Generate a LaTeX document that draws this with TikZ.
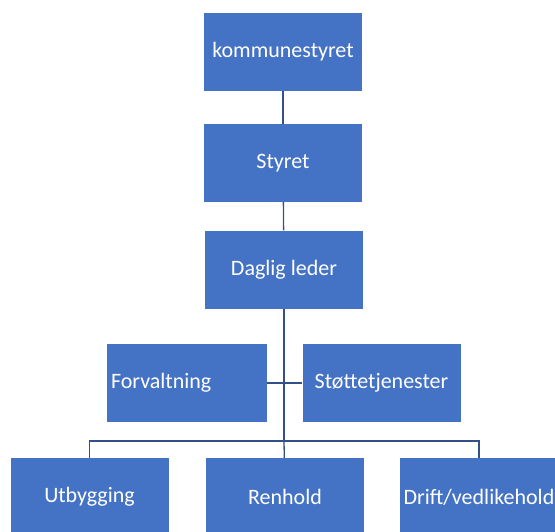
\documentclass[tikz,border=0pt]{standalone}
\usepackage{fontspec}
\setmainfont{Carlito}
\usepackage{xcolor}
\usepackage{tikz}
\definecolor{boxblue}{HTML}{4472C4}
\definecolor{lineblue}{HTML}{34508A}
\tikzset{
  orgbox/.style={fill=boxblue, text=white, minimum width=158pt, minimum height=78pt,
    inner sep=0pt, font=\fontsize{22}{26}\selectfont},
  orgline/.style={draw=lineblue, line width=1.3pt}
}
\begin{document}
\begin{tikzpicture}[x=1pt,y=-1pt]
  \useasboundingbox (0,0) rectangle (555,531);
  \clip (0,0) rectangle (555,531);
      \node[orgbox] (A) at (283,51.5) {kommunestyret};
      \node[orgbox] (B) at (283,163) {Styret};
      \node[orgbox] (C) at (284,269.5) {Daglig leder};
      \node[orgbox, text width=152pt, align=left, inner xsep=4pt] (D) at (187,383) {Forvaltning};
      \node[orgbox] (E) at (381.5,383) {Støttetjenester};
      \node[orgbox] (F) at (89.5,497) {Utbygging};
      \node[orgbox] (G) at (285,497) {Renhold};
      \node[orgbox] (H) at (479,497) {Drift/vedlikehold};
        % Connectors
      \coordinate (J) at (284,441);
      \draw[orgline] (A) -- (B);
      \draw[orgline] (B) -- (C);
      \draw[orgline] (C) -- (J);
      \draw[orgline] (D) -- (E);
      \draw[orgline] (F.north) |- (J) -| (H.north);
      \draw[orgline] (J) -- (G);
\end{tikzpicture}
\end{document}
